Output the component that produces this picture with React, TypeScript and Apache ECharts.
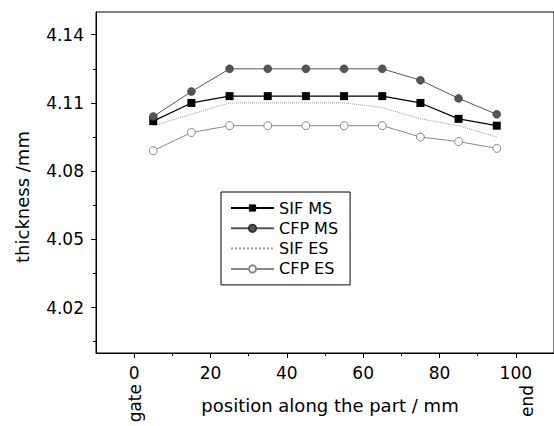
import React, { useEffect, useRef } from 'react';
import * as echarts from 'echarts';

const positions = [5, 15, 25, 35, 45, 55, 65, 75, 85, 95];
const sifMS = [4.102, 4.110, 4.113, 4.113, 4.113, 4.113, 4.113, 4.110, 4.103, 4.100];
const cfpMS = [4.104, 4.115, 4.125, 4.125, 4.125, 4.125, 4.125, 4.120, 4.112, 4.105];
const sifES = [4.100, 4.105, 4.110, 4.110, 4.110, 4.110, 4.108, 4.103, 4.100, 4.095];
const cfpES = [4.089, 4.097, 4.100, 4.100, 4.100, 4.100, 4.100, 4.095, 4.093, 4.090];

const xMajorTicks = [0, 20, 40, 60, 80, 100];
const xMinorTicks = [10, 30, 50, 70, 90];
const yMajorTicks = [4.02, 4.05, 4.08, 4.11, 4.14];
const yMinorTicks = [4.005, 4.035, 4.065, 4.095, 4.125];

const FONT = '"DejaVu Sans", sans-serif';

const pairs = (ys: number[]) => positions.map((x, i) => [x, ys[i]]);

export default function App() {
  const ref = useRef<HTMLDivElement>(null);
  useEffect(() => {
    if (!ref.current) return;
    const chart = echarts.init(ref.current, null, { renderer: 'svg' });
    const mainLine = { show: true, onZero: false, lineStyle: { color: '#000', width: 1 } };
    const hiddenLine = { show: false, onZero: false };
    chart.setOption({
      animation: false,
      backgroundColor: '#fff',
      grid: {
        left: 96, top: 12, right: -52, bottom: 73,
        show: true, borderColor: '#000', borderWidth: 1, backgroundColor: 'transparent',
      },
      xAxis: [
        {
          type: 'value', min: -10, max: 110, position: 'bottom',
          splitLine: { show: false }, axisLine: mainLine,
          axisTick: { show: true, customValues: xMajorTicks, length: 5, lineStyle: { color: '#000' } },
          axisLabel: { customValues: xMajorTicks, color: '#000', fontSize: 17, fontFamily: FONT, margin: 11 },
        },
        {
          type: 'value', min: -10, max: 110, position: 'bottom',
          splitLine: { show: false }, axisLine: hiddenLine,
          axisTick: { show: true, customValues: xMinorTicks, length: 3, lineStyle: { color: '#000' } },
          axisLabel: { show: false },
        },
      ],
      yAxis: [
        {
          type: 'value', min: 4.0, max: 4.15, position: 'left',
          splitLine: { show: false }, axisLine: mainLine,
          axisTick: { show: true, customValues: yMajorTicks, length: 5, lineStyle: { color: '#000' } },
          axisLabel: {
            customValues: yMajorTicks, color: '#000', fontSize: 17, fontFamily: FONT, margin: 12,
            formatter: (v: number) => v.toFixed(2),
          },
        },
        {
          type: 'value', min: 4.0, max: 4.15, position: 'left',
          splitLine: { show: false }, axisLine: hiddenLine,
          axisTick: { show: true, customValues: yMinorTicks, length: 3, lineStyle: { color: '#000' } },
          axisLabel: { show: false },
        },
      ],
      legend: {
        orient: 'vertical', left: 221, top: 192,
        padding: [8, 12, 8, 9],
        itemWidth: 43, itemHeight: 9, itemGap: 4.3,
        borderColor: '#000', borderWidth: 1, backgroundColor: '#fff',
        textStyle: { color: '#000', fontSize: 16, fontFamily: FONT, lineHeight: 16 },
        data: [
          { name: 'SIF MS' },
          { name: 'CFP MS' },
          { name: 'SIF ES', itemStyle: { color: 'rgba(0,0,0,0)', borderWidth: 0 } },
          { name: 'CFP ES' },
        ],
      },
      series: [
        {
          name: 'SIF MS', type: 'line', data: pairs(sifMS),
          symbol: 'rect', symbolSize: 8,
          itemStyle: { color: '#000' },
          lineStyle: { color: '#000', width: 1.2 },
        },
        {
          name: 'CFP MS', type: 'line', data: pairs(cfpMS),
          symbol: 'circle', symbolSize: 8,
          itemStyle: { color: '#555', borderColor: '#333', borderWidth: 0.5 },
          lineStyle: { color: '#555', width: 1 },
        },
        {
          name: 'SIF ES', type: 'line', data: pairs(sifES),
          symbol: 'none',
          itemStyle: { color: '#999' },
          lineStyle: { color: '#999', width: 1, type: 'dotted' },
        },
        {
          name: 'CFP ES', type: 'line', data: pairs(cfpES),
          symbol: 'circle', symbolSize: 8,
          itemStyle: { color: '#fff', borderColor: '#888', borderWidth: 1 },
          lineStyle: { color: '#888', width: 1 },
        },
      ],
      graphic: [
        {
          type: 'text', x: 22, y: 197, rotation: Math.PI / 2,
          style: {
            text: 'thickness /mm', font: '18px ' + FONT, fill: '#000',
            align: 'center', verticalAlign: 'middle', textAlign: 'center', textVerticalAlign: 'middle',
          },
        },
        {
          type: 'text', x: 330, y: 405,
          style: {
            text: 'position along the part / mm', font: '18px ' + FONT, fill: '#000',
            align: 'center', verticalAlign: 'middle', textAlign: 'center', textVerticalAlign: 'middle',
          },
        },
        {
          type: 'text', x: 135, y: 384, rotation: Math.PI / 2,
          style: {
            text: 'gate', font: '17px ' + FONT, fill: '#000',
            align: 'right', verticalAlign: 'middle', textAlign: 'right', textVerticalAlign: 'middle',
          },
        },
        {
          type: 'text', x: 527, y: 385, rotation: Math.PI / 2,
          style: {
            text: 'end', font: '17px ' + FONT, fill: '#000',
            align: 'right', verticalAlign: 'middle', textAlign: 'right', textVerticalAlign: 'middle',
          },
        },
      ],
    });
    return () => chart.dispose();
  }, []);
  return (
    <div
      ref={ref}
      style={{ position: 'fixed', left: 0, top: 0, width: 554, height: 426, background: '#fff' }}
    />
  );
}
